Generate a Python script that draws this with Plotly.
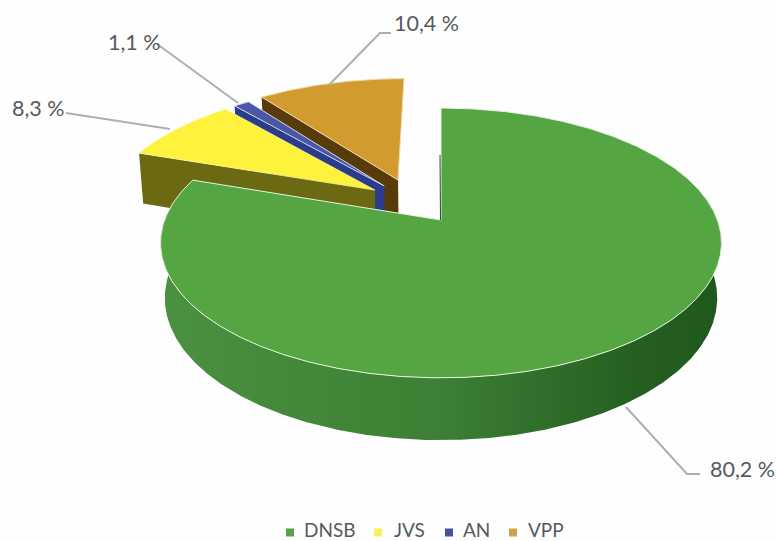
import numpy as np
import plotly.graph_objects as go

categories = ["DNSB", "JVS", "AN", "VPP"]
values = [80.2, 8.3, 1.1, 10.4]
value_labels = ["80,2 %", "8,3 %", "1,1 %", "10,4 %"]

# Styling and projection (not data)
TOP = {"DNSB": "#55a543", "JVS": "#fff23c", "AN": "#4b56a6", "VPP": "#d29b30"}
WALL = {"JVS": "#6b6a12", "AN": "#2b3c8c", "VPP": "#573b08"}
LEGEND = {"DNSB": "#5aa04e", "JVS": "#f8f060", "AN": "#46529f", "VPP": "#cfa24a"}
OFFSET = {"DNSB": (0.0, 0.0), "JVS": (-0.249, 0.238), "AN": (-0.215, 0.272), "VPP": (-0.164, 0.322)}
CX, CY, A, B, K, DEPTH, M = 441, 220, 131, 276.4, 0.17, 55, 0.015
W, H = 776, 541


def project(X, Y, bottom=False):
    X, Y = np.asarray(X, float), np.asarray(Y, float)
    w = 1 + K * Y + (M if bottom else 0)
    return CX + B * X / w, CY - A * Y / w + (DEPTH / w if bottom else 0)


def rim(t0, t1, name, bottom=False):
    t = np.radians(np.linspace(t0, t1, max(int(abs(t1 - t0)) * 2, 2)))
    ox, oy = OFFSET[name]
    return project(ox + np.sin(t), oy + np.cos(t), bottom)


def apex(name, bottom=False):
    ox, oy = OFFSET[name]
    return project([ox], [oy], bottom)


fig = go.Figure()


def poly(x, y, color, line="rgba(0,0,0,0)", lw=0):
    fig.add_trace(go.Scatter(x=x, y=y, mode="lines", fill="toself", fillcolor=color,
                             line=dict(color=line, width=lw), hoverinfo="skip",
                             showlegend=False))


def cut_wall(theta, name, color):
    t = np.radians(theta)
    ox, oy = OFFSET[name]
    a0, a1 = apex(name), apex(name, True)
    r0 = project([ox + np.sin(t)], [oy + np.cos(t)])
    r1 = project([ox + np.sin(t)], [oy + np.cos(t)], True)
    poly(np.r_[a0[0], r0[0], r1[0], a1[0]], np.r_[a0[1], r0[1], r1[1], a1[1]], color)


def top_face(t0, t1, name, line="rgba(0,0,0,0)", lw=0):
    ax, ay = apex(name)
    rx, ry = rim(t0, t1, name)
    poly(np.r_[ax, rx, ax], np.r_[ay, ry, ay], TOP[name], line, lw)


angles = np.cumsum([0] + values) / sum(values) * 360
span = {c: (angles[i], angles[i + 1]) for i, c in enumerate(categories)}

# back to front
cut_wall(span["VPP"][0], "VPP", WALL["VPP"])
top_face(*span["VPP"], "VPP", "#f0dcae", 1)
cut_wall(span["AN"][0], "AN", WALL["AN"])
top_face(*span["AN"], "AN", "#d5d9ee", 1)
cut_wall(span["JVS"][0], "JVS", WALL["JVS"])
top_face(*span["JVS"], "JVS", "#fdf8a0", 0.8)

# green side wall with gradient
g0, g1 = 65, span["DNSB"][1]
tx, ty = rim(g0, g1, "DNSB")
bx, by = rim(g0, g1, "DNSB", True)
fig.add_trace(go.Scatter(
    x=np.r_[tx, bx[::-1]], y=np.r_[ty, by[::-1]], mode="lines", fill="toself",
    line=dict(color="rgba(0,0,0,0)", width=0), hoverinfo="skip", showlegend=False,
    fillgradient=dict(type="horizontal",
                      colorscale=[[0, "#4a9140"], [0.5, "#3d7f34"], [0.85, "#245f20"], [1, "#1f581c"]]),
))
top_face(*span["DNSB"], "DNSB", "#e8f3e2", 1)

# thin dark line on the cut edge of the big slice
fig.add_trace(go.Scatter(x=[440.5, 440], y=[220, 155], mode="lines",
                         line=dict(color="#1d4a3c", width=1), hoverinfo="skip", showlegend=False))

# leader lines
leaders = [
    ([626, 687, 700], [407, 474, 474]),
    ([66, 170], [113, 129]),
    ([157, 238], [44, 103]),
    ([329, 380, 391], [85, 33, 33]),
]
for lx, ly in leaders:
    fig.add_trace(go.Scatter(x=lx, y=ly, mode="lines", line=dict(color="#a9afb9", width=2),
                             hoverinfo="skip", showlegend=False))

# legend
legend_marker_x = [290, 378, 449, 513]
legend_text_x = [302, 392, 461, 526]
LEGEND_Y = 529.5
for c, mx, tx_ in zip(categories, legend_marker_x, legend_text_x):
    fig.add_trace(go.Scatter(x=[mx], y=[LEGEND_Y + 3], mode="markers", name=c, showlegend=False,
                             marker=dict(symbol="square", size=8, color=LEGEND[c]), hoverinfo="name"))
    fig.add_annotation(x=tx_, y=LEGEND_Y, text=c, showarrow=False, xanchor="left",
                       font=dict(family="Lato", size=19, color="#555a60"))

label_pos = [(742, 469), (38, 108), (134, 42), (426, 23)]
for text, (x, y) in zip(value_labels, label_pos):
    fig.add_annotation(x=x, y=y, text=text, showarrow=False,
                       font=dict(family="Lato", size=21.5, color="#555a60"))

fig.update_layout(
    width=W, height=H, margin=dict(l=0, r=0, t=0, b=0),
    paper_bgcolor="#fefefe", plot_bgcolor="#fefefe",
    xaxis=dict(range=[0, W], visible=False, fixedrange=True),
    yaxis=dict(range=[H, 0], visible=False, fixedrange=True),
    font=dict(family="Lato"),
)
fig.write_html("out.html", config={"displayModeBar": False},
               post_script="document.body.style.margin='0';document.documentElement.style.overflow='hidden';")
